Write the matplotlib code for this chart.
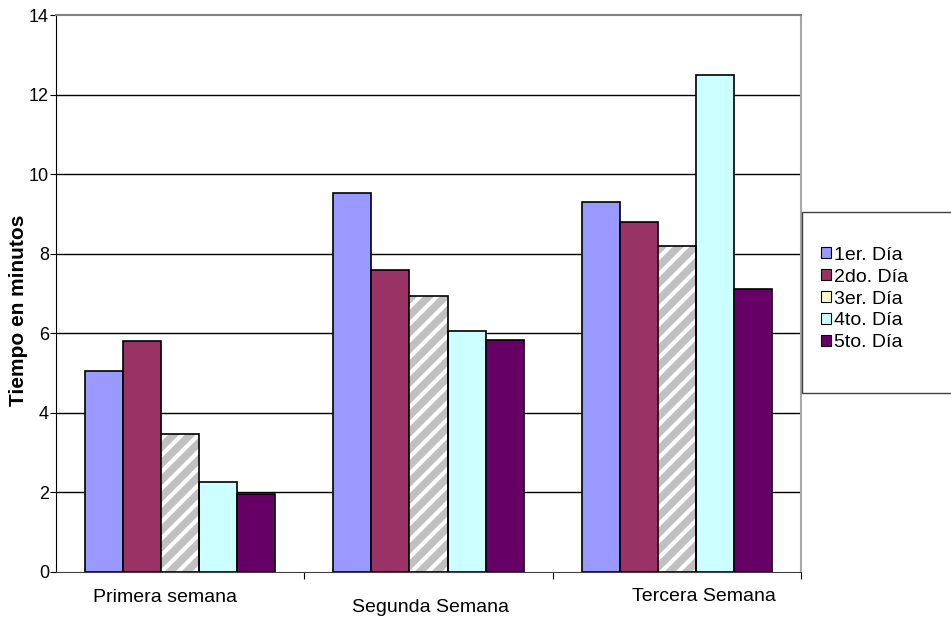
import numpy as np
import matplotlib.pyplot as plt
from matplotlib.patches import Rectangle, Patch

plt.rcParams['font.family'] = ['Liberation Sans', 'DejaVu Sans']

semanas = ["Primera semana", "Segunda Semana", "Tercera Semana"]
dias = ["1er. Día", "2do. Día", "3er. Día", "4to. Día", "5to. Día"]
dia1 = [5.05, 9.52, 9.30]
dia2 = [5.80, 7.59, 8.79]
dia3 = [3.47, 6.93, 8.19]
dia4 = [2.26, 6.05, 12.49]
dia5 = [1.96, 5.83, 7.11]
series = [dia1, dia2, dia3, dia4, dia5]

colores = ['#9999ff', '#993366', '#c0c0c0', '#ccffff', '#660066']
leyenda_col = ['#9999ff', '#993366', '#ffffcc', '#ccffff', '#660066']

fig = plt.figure(figsize=(9.51, 6.21), dpi=100)
ax = fig.add_axes([56/951, 49/621, 745/951, 557/621])

x = np.arange(len(semanas))
w = 38/248
plt.rcParams['hatch.linewidth'] = 3.0
for i, vals in enumerate(series):
    pos = x + (i - 2) * w
    if i == 2:
        # rayado blanco sobre gris, borde negro encima
        ax.bar(pos, vals, w, color=colores[i], edgecolor='white', hatch='//',
               linewidth=0, zorder=3)
        ax.bar(pos, vals, w, facecolor='none', edgecolor='black',
               linewidth=1.2, zorder=4)
    else:
        ax.bar(pos, vals, w, color=colores[i], edgecolor='black',
               linewidth=1.2, zorder=3)

ax.set_xlim(-0.5, 2.5)
ax.set_ylim(0, 14)
ax.set_yticks(np.arange(0, 15, 2))
ax.tick_params(axis='y', labelsize=13, length=4, direction='out', pad=1)
for yv in range(2, 14, 2):
    ax.axhline(yv, color='black', linewidth=1, zorder=1)

ax.set_xticks([0.5, 1.5, 2.5])
ax.set_xticklabels([])
ax.tick_params(axis='x', length=5, direction='out', color='black')

# etiquetas de categoría escalonadas
offs = [-0.06, 1.01, 2.11]
ys = [-0.63, -0.9, -0.61]
for s, xo, yo in zip(semanas, offs, ys):
    ax.text(xo, yo, s, ha='center', va='center', fontsize=14)

ax.spines['top'].set_color('#808080')
ax.spines['top'].set_linewidth(1.5)
ax.spines['right'].set_color('#a8a8a8')
ax.spines['right'].set_linewidth(1.5)
ax.spines['left'].set_color('black')
ax.spines['bottom'].set_color('#404040')

ax.set_ylabel("Tiempo en minutos", fontsize=15, fontweight='bold')
ax.yaxis.set_label_coords(-0.037, 0.469)

# caja de la leyenda
fig.patches.append(Rectangle((802/951, (621-393)/621), 200/951, 181/621,
                             transform=fig.transFigure, facecolor='white',
                             edgecolor='#404040', linewidth=1))
handles = [Patch(facecolor=c, edgecolor='black', linewidth=0.8) for c in leyenda_col]
fig.legend(handles, dias, loc='upper left', bbox_to_anchor=(813/951, (621-239)/621),
           frameon=False, fontsize=14, handlelength=0.5, handleheight=0.5,
           handletextpad=0.2, labelspacing=0.25, borderaxespad=0)

fig.savefig("out.png", dpi=100)
